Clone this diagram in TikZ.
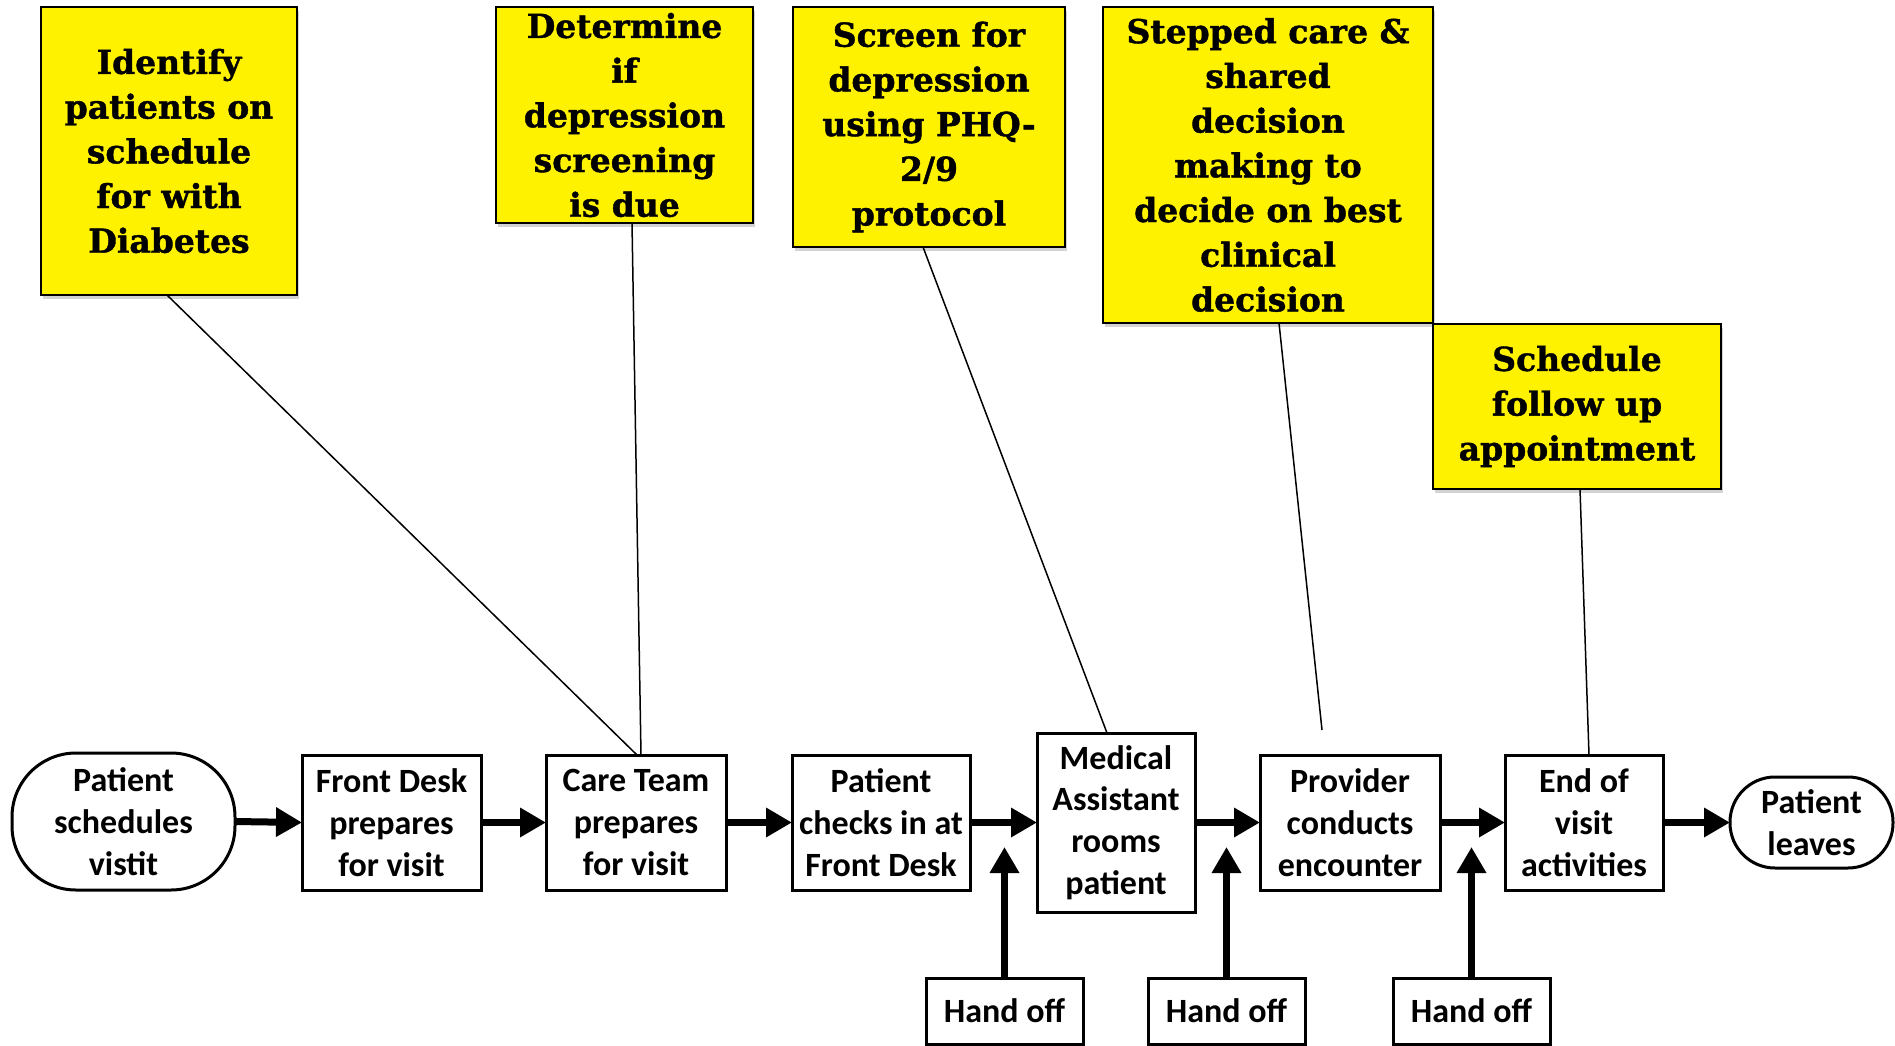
\documentclass[tikz,border=0pt]{standalone}
\usepackage{fontspec}
\setmainfont{Carlito}
\newfontfamily\notefont{DejaVu Serif}[BoldFeatures={FakeBold=1.2}]
\usetikzlibrary{arrows.meta,shadows,calc}

\begin{document}
\begin{tikzpicture}[x=1pt,y=-1pt,
  flowbox/.style={draw=black,line width=3pt,fill=white,inner sep=0pt,outer sep=0pt,
    align=center,font=\bfseries\fontsize{34pt}{41.7pt}\selectfont},
  notebox/.style={draw=black,line width=2pt,fill=yellow,inner sep=0pt,outer sep=0pt,
    align=center,font=\notefont\bfseries\fontsize{33pt}{44.7pt}\selectfont,
    drop shadow={shadow xshift=2pt,shadow yshift=-4pt,opacity=0.35}},
  flowarrow/.style={line width=7pt,-{Triangle[length=26pt,width=28pt]}},
  noteline/.style={line width=1.5pt}
]
\useasboundingbox (0,0) rectangle (1895,1046);

% main process row
\node[flowbox,minimum width=223pt,minimum height=137pt,rounded corners=64pt] (sched) at (123.5,821.5) {Patient\\schedules\\vistit};
\node[flowbox,minimum width=179pt,minimum height=135pt] (front) at (391.5,822.5) {Front Desk\\prepares\\for visit};
\node[flowbox,minimum width=180pt,minimum height=135pt] (care) at (636,822.5) {Care Team\\prepares\\for visit};
\node[flowbox,minimum width=178pt,minimum height=135pt] (checks) at (881,822.5) {Patient\\checks in at\\Front Desk};
\node[flowbox,minimum width=158pt,minimum height=179pt] (medical) at (1116,822.5) {Medical\\Assistant\\rooms\\patient};
\node[flowbox,minimum width=180pt,minimum height=135pt] (provider) at (1350,822.5) {Provider\\conducts\\encounter};
\node[flowbox,minimum width=158pt,minimum height=135pt] (endvisit) at (1584,822.5) {End of\\visit\\activities};
\node[flowbox,minimum width=163pt,minimum height=91pt,rounded corners=45pt] (leaves) at (1811.5,822.5) {Patient\\leaves};

\draw[flowarrow] (sched.east) -- (front.west);
\draw[flowarrow] (front.east) -- (care.west);
\draw[flowarrow] (care.east) -- (checks.west);
\draw[flowarrow] (checks.east) -- (medical.west);
\draw[flowarrow] (medical.east) -- (provider.west);
\draw[flowarrow] (provider.east) -- (endvisit.west);
\draw[flowarrow] (endvisit.east) -- (leaves.west);

% hand-off boxes below the row
\node[flowbox,minimum width=157pt,minimum height=66pt] (hand1) at (1004.5,1011) {Hand off};
\node[flowbox,minimum width=157pt,minimum height=66pt] (hand2) at (1226.5,1011) {Hand off};
\node[flowbox,minimum width=157pt,minimum height=66pt] (hand3) at (1471.5,1011) {Hand off};
\coordinate (tip1) at (1004.5,847);
\coordinate (tip2) at (1226.5,847);
\coordinate (tip3) at (1471.5,847);
\draw[flowarrow] (hand1.north) -- (tip1);
\draw[flowarrow] (hand2.north) -- (tip2);
\draw[flowarrow] (hand3.north) -- (tip3);

% highlighted notes
\node[notebox,minimum width=256pt,minimum height=288pt] (ident) at (169,151) {Identify\\patients on\\schedule\\for with\\Diabetes};
\node[notebox,minimum width=257pt,minimum height=216pt] (determ) at (624.5,115) {Determine\\if\\depression\\screening\\is due};
\node[notebox,minimum width=272pt,minimum height=240pt] (screen) at (929,127) {Screen for\\depression\\using PHQ-\\2/9\\protocol};
\node[notebox,minimum width=330pt,minimum height=316pt] (stepped) at (1268,165) {Stepped care \&\\shared\\decision\\making to\\decide on best\\clinical\\decision};
\node[notebox,minimum width=288pt,minimum height=165pt] (followup) at (1577,406.5) {Schedule\\follow up\\appointment};

% leader lines from notes to the process steps
\coordinate (stepend) at (1322,730);
\draw[noteline] ($(ident.south)+(-2,0)$) -- ($(care.north)+(1,0)$);
\draw[noteline] ($(determ.south)+(7.5,0)$) -- ($(care.north)+(5,0)$);
\draw[noteline] ($(screen.south)+(-6,0)$) -- ($(medical.north)+(-9,0)$);
\draw[noteline] ($(stepped.south)+(11,0)$) -- (stepend);
\draw[noteline] ($(followup.south)+(3,0)$) -- ($(endvisit.north)+(5,0)$);
\end{tikzpicture}
\end{document}
